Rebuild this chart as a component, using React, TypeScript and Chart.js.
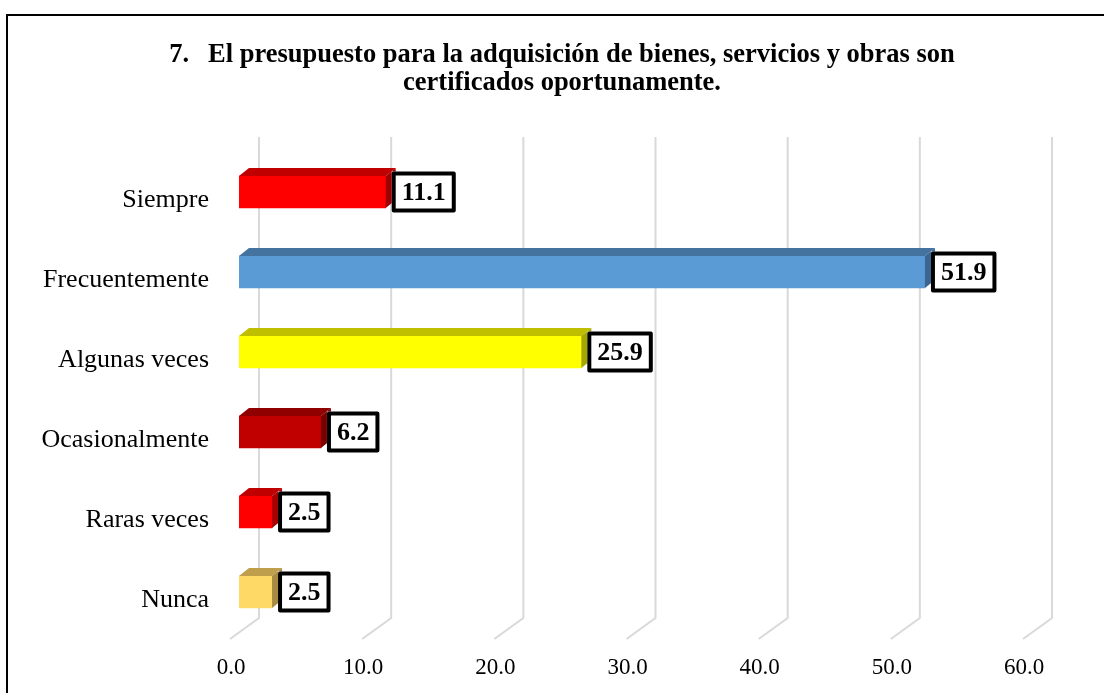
import React, { useEffect, useRef } from "react";
import { Chart, registerables } from "chart.js";

Chart.register(...registerables);

const categories = ["Siempre", "Frecuentemente", "Algunas veces", "Ocasionalmente", "Raras veces", "Nunca"];
const values = [11.1, 51.9, 25.9, 6.2, 2.5, 2.5];
const frontColors = ["#FF0000", "#5B9BD5", "#FFFF00", "#C00000", "#FF0000", "#FFD966"];
const topColors = ["#C00000", "#44739F", "#BFBF00", "#900000", "#C00000", "#BF9F4C"];
const sideColors = ["#A00000", "#3A6590", "#A6A600", "#7A0000", "#A80000", "#A88B40"];
const xTicks = [0, 10, 20, 30, 40, 50, 60];
const titleNumber = "7.";
const titleLine1 = "El presupuesto para la adquisición de bienes, servicios y obras son";
const titleLine2 = "certificados oportunamente.";

const FONT = "'Liberation Serif', 'Times New Roman', serif";

const decor = {
  id: "decor",
  beforeDraw(chart: any) {
    const ctx = chart.ctx as CanvasRenderingContext2D;
    ctx.save();
    ctx.fillStyle = "#ffffff";
    ctx.fillRect(0, 0, chart.width, chart.height);
    ctx.strokeStyle = "#000000";
    ctx.lineWidth = 2;
    ctx.strokeRect(7, 15, 1300, 1000);

    ctx.font = `bold 26.5px ${FONT}`;
    ctx.fillStyle = "#000000";
    ctx.textBaseline = "alphabetic";
    const wNum = ctx.measureText(titleNumber).width;
    const gap = 19;
    const wRest = ctx.measureText(titleLine1).width;
    const total = wNum + gap + wRest;
    const cx = 562;
    const x0 = cx - total / 2;
    ctx.textAlign = "left";
    ctx.fillText(titleNumber, x0, 62);
    ctx.fillText(titleLine1, x0 + wNum + gap, 62);
    ctx.textAlign = "center";
    ctx.fillText(titleLine2, cx, 90);

    const xs = chart.scales.x;
    const area = chart.chartArea;
    ctx.strokeStyle = "#D9D9D9";
    ctx.lineWidth = 2;
    for (const t of xTicks) {
      const p = xs.getPixelForValue(t);
      ctx.beginPath();
      ctx.moveTo(p + 20, area.top - 15);
      ctx.lineTo(p + 20, area.bottom - 14);
      ctx.lineTo(p - 9, area.bottom + 7);
      ctx.stroke();
    }
    ctx.restore();
  },
  afterDatasetsDraw(chart: any) {
    const ctx = chart.ctx as CanvasRenderingContext2D;
    const meta = chart.getDatasetMeta(0);
    ctx.save();
    meta.data.forEach((bar: any, i: number) => {
      const { x, y, base, height } = bar.getProps(["x", "y", "base", "height"], true);
      const top = y - height / 2;
      const bottom = y + height / 2;
      const dx = 10;
      const dy = 8;
      ctx.fillStyle = topColors[i];
      ctx.beginPath();
      ctx.moveTo(base, top);
      ctx.lineTo(base + dx, top - dy);
      ctx.lineTo(x + dx, top - dy);
      ctx.lineTo(x, top);
      ctx.closePath();
      ctx.fill();
      ctx.fillStyle = sideColors[i];
      ctx.beginPath();
      ctx.moveTo(x, top);
      ctx.lineTo(x + dx, top - dy);
      ctx.lineTo(x + dx, bottom - dy);
      ctx.lineTo(x, bottom);
      ctx.closePath();
      ctx.fill();
    });
    meta.data.forEach((bar: any, i: number) => {
      const { x, y } = bar.getProps(["x", "y"], true);
      const text = values[i].toFixed(1);
      ctx.font = `bold 26px ${FONT}`;
      const tw = ctx.measureText(text).width;
      const w = tw + 20;
      const h = 41;
      const left = x + 6;
      const topY = y - h / 2;
      ctx.fillStyle = "#ffffff";
      ctx.fillRect(left, topY, w, h);
      ctx.strokeStyle = "#000000";
      ctx.lineWidth = 4;
      ctx.lineJoin = "round";
      ctx.strokeRect(left + 2, topY + 2, w - 4, h - 4);
      ctx.fillStyle = "#000000";
      ctx.textAlign = "center";
      ctx.textBaseline = "middle";
      ctx.fillText(text, left + w / 2, y + 1);
    });
    ctx.restore();
  },
};

export default function App() {
  const ref = useRef<HTMLCanvasElement | null>(null);
  useEffect(() => {
    if (!ref.current) return;
    Chart.defaults.font.family = FONT;
    const chart = new Chart(ref.current, {
      type: "bar",
      data: {
        labels: categories,
        datasets: [
          {
            data: values,
            backgroundColor: frontColors,
            borderWidth: 0,
            barThickness: 32,
          },
        ],
      },
      options: {
        indexAxis: "y",
        responsive: false,
        animation: false,
        devicePixelRatio: 1,
        layout: { padding: { left: 16, top: 152, right: 72, bottom: 0 } },
        plugins: {
          legend: { display: false },
          title: { display: false },
          tooltip: { enabled: false },
        },
        scales: {
          x: {
            type: "linear",
            min: 0,
            max: 60,
            grid: { display: false, drawTicks: false },
            border: { display: false },
            ticks: {
              stepSize: 10,
              callback: (v: any) => Number(v).toFixed(1),
              font: { size: 23, family: FONT },
              color: "#000000",
              padding: 22,
              labelOffset: -8,
            },
            afterFit: (s: any) => {
              s.height = 61;
            },
          },
          y: {
            type: "category",
            grid: { display: false, drawTicks: false },
            border: { display: false },
            ticks: {
              font: { size: 26, family: FONT },
              color: "#000000",
              padding: 30,
              labelOffset: 8,
            },
            afterFit: (s: any) => {
              s.width = 223;
            },
          },
        },
      },
      plugins: [decor],
    } as any);
    return () => chart.destroy();
  }, []);
  return (
    <div style={{ position: "absolute", left: 0, top: 0, width: 1104, height: 693 }}>
      <canvas ref={ref} width={1104} height={693} style={{ display: "block" }} />
    </div>
  );
}
